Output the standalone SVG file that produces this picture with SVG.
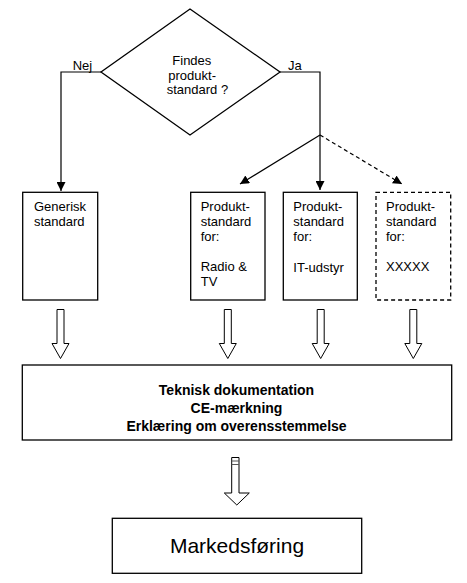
<svg xmlns="http://www.w3.org/2000/svg" width="467" height="583" viewBox="0 0 467 583">
<style>
text{font-family:"Liberation Sans",Arial,sans-serif;fill:#000}
.t{font-size:13px}
.b{font-size:14px;font-weight:bold;text-anchor:middle}
.box{fill:#fff;stroke:#000;stroke-width:1.3}
.dash{stroke-dasharray:4,3}
.ln{fill:none;stroke:#000;stroke-width:1.2}
.ha{fill:#fff;stroke:#000;stroke-width:1}
</style>
<defs>
<marker id="ah" viewBox="0 0 10 10" refX="10" refY="5" markerWidth="9" markerHeight="9" markerUnits="userSpaceOnUse" orient="auto">
<path d="M0,0 L10,5 L0,10 z" fill="#000"/>
</marker>
</defs>
<g id="connectors">
<polyline class="ln" points="101,72 61,72 61,191" marker-end="url(#ah)"/>
<polyline class="ln" points="280,72 320,72 320,135 320,190" marker-end="url(#ah)"/>
<line class="ln" x1="320" y1="135" x2="240" y2="184" marker-end="url(#ah)"/>
<line class="ln dash" x1="320" y1="135" x2="402" y2="184" marker-end="url(#ah)"/>
<path class="ha" d="M57,309.5 H64 V343.5 H69 L60.5,358.5 L52,343.5 H57 Z"/>
<path class="ha" d="M224.3,309.5 H231.3 V343.5 H236.3 L227.8,358.5 L219.3,343.5 H224.3 Z"/>
<path class="ha" d="M317.2,309.5 H324.2 V343.5 H329.2 L320.7,358.5 L312.2,343.5 H317.2 Z"/>
<path class="ha" d="M409.8,309.5 H416.8 V343.5 H421.8 L413.3,358.5 L404.8,343.5 H409.8 Z"/>
<path class="ha" d="M231.7,457.5 H239 V493 H249.3 L236.8,505 L224.3,493 H231.7 Z"/>
<line x1="231.7" y1="461" x2="239" y2="461" stroke="#555" stroke-width="1"/>
<line x1="231.7" y1="464.5" x2="239" y2="464.5" stroke="#555" stroke-width="1"/>
</g>
<g id="decision">
<polygon class="box" points="190,9 280,72 190,135 101,72"/>
<text class="t" x="172.3" y="65">Findes</text>
<text class="t" x="168.3" y="79.5">produkt-</text>
<text class="t" x="166.7" y="94">standard ?</text>
<text class="t" x="72.7" y="69.5">Nej</text>
<text class="t" x="288" y="69.5">Ja</text>
</g>
<g id="generisk">
<rect class="box" x="22.7" y="192.3" width="75" height="107.7"/>
<text class="t" x="34" y="210.7">Generisk</text>
<text class="t" x="34" y="225.7">standard</text>
</g>
<g id="radio">
<rect class="box" x="190.7" y="192.3" width="74.3" height="107.7"/>
<text class="t" x="200.7" y="210.7">Produkt-</text>
<text class="t" x="200.7" y="225.7">standard</text>
<text class="t" x="200.7" y="240.7">for:</text>
<text class="t" x="200.7" y="270.7">Radio &amp;</text>
<text class="t" x="200.7" y="285.7">TV</text>
</g>
<g id="it">
<rect class="box" x="283.3" y="192.3" width="74" height="107.7"/>
<text class="t" x="293.3" y="210.7">Produkt-</text>
<text class="t" x="293.3" y="225.7">standard</text>
<text class="t" x="293.3" y="240.7">for:</text>
<text class="t" x="293.3" y="272">IT-udstyr</text>
</g>
<g id="xxxxx">
<rect class="box dash" x="376" y="192.3" width="74.7" height="107.7"/>
<text class="t" x="386" y="210.7">Produkt-</text>
<text class="t" x="386" y="225.7">standard</text>
<text class="t" x="386" y="240.7">for:</text>
<text class="t" x="386" y="270.7">XXXXX</text>
</g>
<g id="dokumentation">
<rect class="box" x="22.3" y="365" width="429.4" height="75"/>
<text class="b" x="236.5" y="395">Teknisk dokumentation</text>
<text class="b" x="236.5" y="413">CE-mærkning</text>
<text class="b" x="236.5" y="431">Erklæring om overensstemmelse</text>
</g>
<g id="markedsforing">
<rect class="box" x="112.3" y="518.3" width="249.4" height="55"/>
<text x="237" y="552.5" font-size="21" text-anchor="middle">Markedsføring</text>
</g>
</svg>
